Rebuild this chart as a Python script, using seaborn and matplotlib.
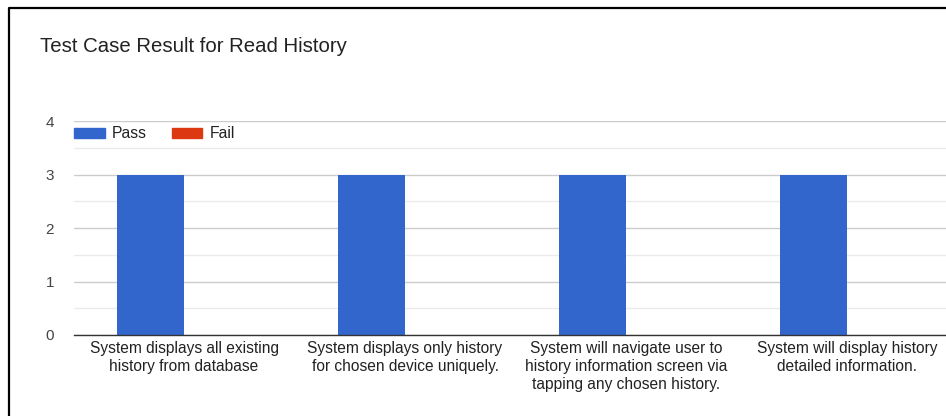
import matplotlib
matplotlib.use("Agg")
import matplotlib.pyplot as plt
from matplotlib.lines import Line2D
import seaborn as sns
import pandas as pd

categories = [
    "System displays all existing\nhistory from database",
    "System displays only history\nfor chosen device uniquely.",
    "System will navigate user to\nhistory information screen via\ntapping any chosen history.",
    "System will display history\ndetailed information.",
]
series = ["Pass", "Fail"]
pass_values = [3, 3, 3, 3]
fail_values = [0, 0, 0, 0]
y_ticks = [0, 1, 2, 3, 4]
title = "Test Case Result for Read History"

df = pd.DataFrame({
    "Category": categories * 2,
    "Result": ["Pass"] * len(categories) + ["Fail"] * len(categories),
    "Count": pass_values + fail_values,
})

sns.set_theme(style="white")
plt.rcParams["font.family"] = ["Liberation Sans", "DejaVu Sans"]

W, H = 946, 416
fig = plt.figure(figsize=(W / 100, H / 100), dpi=100)
ax = fig.add_axes([73.5 / W, 81 / H, 884 / W, 214 / H])

palette = {"Pass": "#3366CC", "Fail": "#DC3912"}
sns.barplot(data=df, x="Category", y="Count", hue="Result", hue_order=series,
            palette=palette, width=0.606, gap=0, saturation=1, ax=ax,
            linewidth=0, legend=False, order=categories)

ax.set_xlim(-0.5, len(categories) - 0.5)
ax.set_ylim(0, 4)
ax.set_yticks(y_ticks)
ax.set_yticks([0.5, 1.5, 2.5, 3.5], minor=True)
ax.grid(axis="y", which="major", color="#cccccc", linewidth=1.0)
ax.grid(axis="y", which="minor", color="#ebebeb", linewidth=1.0)
ax.grid(axis="x", visible=False)
ax.set_axisbelow(True)
for s in ["top", "right", "left"]:
    ax.spines[s].set_visible(False)
ax.spines["bottom"].set_color("#333333")
ax.spines["bottom"].set_linewidth(1.0)
ax.set_xlabel("")
ax.set_ylabel("")
ax.tick_params(axis="y", which="both", length=0, pad=14, labelsize=11, labelcolor="#444444")
ax.tick_params(axis="x", length=0, pad=4.5, labelsize=11.2, labelcolor="#222222")
for lab in ax.get_xticklabels():
    lab.set_horizontalalignment("center")
    lab.set_multialignment("center")
    lab.set_linespacing(1.22)

handles = [plt.Rectangle((0, 0), 1, 1, color=palette[s]) for s in series]
fig.legend(handles, series, loc="center left", ncol=2, frameon=False,
           bbox_to_anchor=(74 / W, 1 - 134 / H), bbox_transform=fig.transFigure,
           borderpad=0, borderaxespad=0, handlelength=1.95, handleheight=0.65,
           handletextpad=0.45, columnspacing=1.6, fontsize=11.3, labelcolor="#222222")

fig.text(40 / W, 1 - 47 / H, title, fontsize=14.7, color="#222222", va="center", ha="left")

fig.add_artist(Line2D([8.5 / W, 8.5 / W, 1.0], [0, 1 - 7.5 / H, 1 - 7.5 / H],
                      transform=fig.transFigure, color="black", linewidth=1.6))

fig.savefig("out.png", dpi=100)
